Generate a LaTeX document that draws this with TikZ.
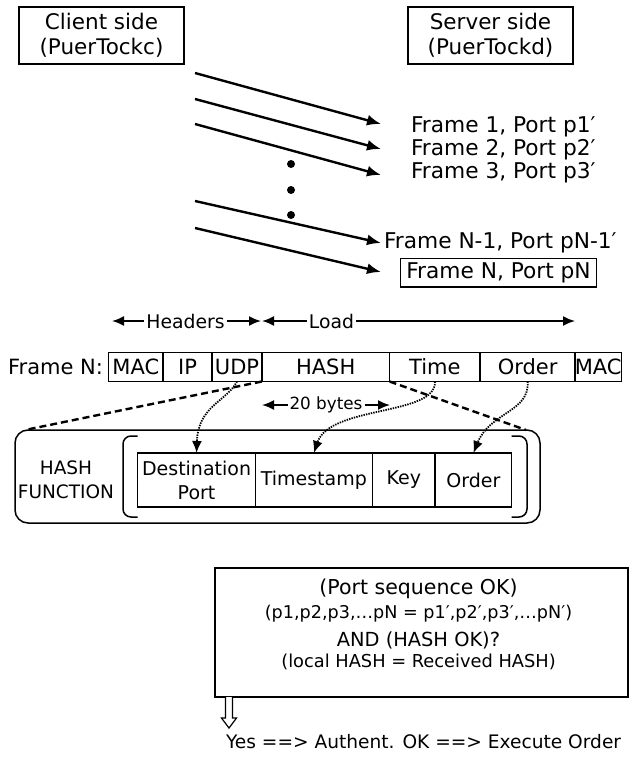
\documentclass[tikz,border=0pt]{standalone}
\usepackage{fontspec}
\setmainfont{DejaVu Sans}
\usetikzlibrary{arrows.meta,calc}

\begin{document}
\begin{tikzpicture}[x=1pt,y=-1pt,
  every node/.style={inner sep=0pt, outer sep=0pt},
  fs/.style={font=\fontsize{#1}{#1}\selectfont},
  boxed/.style={draw, line width=1.5pt, align=center},
  field/.style={boxed, fs=21, minimum height=29pt},
  cell/.style={boxed, minimum height=54pt, font=\fontsize{19}{24}\selectfont},
  packet/.style={line width=2.4pt, -{Latex[length=14pt,width=11pt]}},
  span/.style={line width=1.8pt, {Latex[length=12pt,width=10pt]}-{Latex[length=12pt,width=10pt]}},
  zoomline/.style={line width=2.4pt, dash pattern=on 7pt off 4pt},
  feed/.style={line width=1.8pt, dash pattern=on 1.4pt off 1.1pt, -{Latex[length=12pt,width=10pt]}},
]
\useasboundingbox (0,0) rectangle (632,760);

% end points
\node[boxed, font=\fontsize{21.5}{25}\selectfont, minimum width=165pt, minimum height=57pt] (client) at (101.5,35.5) {Client side\\(PuerTockc)};
\node[boxed, font=\fontsize{21.5}{25}\selectfont, minimum width=165pt, minimum height=57pt] (server) at (490.5,35.5) {Server side\\(PuerTockd)};

% received frames
\node[fs=21.7, anchor=west] (fr1) at (411,127) {Frame 1, Port p1′};
\node[fs=21.7, anchor=west] (fr2) at (411,150) {Frame 2, Port p2′};
\node[fs=21.7, anchor=west] (fr3) at (411,173) {Frame 3, Port p3′};
\node[fs=21.7, anchor=west] (frn1) at (384,243) {Frame N-1, Port pN-1′};
\node[boxed, fs=21.7, minimum width=196pt, minimum height=28.5pt] (frn) at (498.5,272.5) {Frame N, Port pN};

% packets on the wire
\coordinate (s1) at (195,73);  \coordinate (t1) at (381,124);
\coordinate (s2) at (195,99);  \coordinate (t2) at (381,149);
\coordinate (s3) at (195,124); \coordinate (t3) at (381,175);
\coordinate (s4) at (195,201); \coordinate (t4) at (381,243);
\coordinate (s5) at (195,228); \coordinate (t5) at (381,272);
\foreach \i in {1,...,5} {\draw[packet] (s\i) -- (t\i);}
\foreach \y [count=\k] in {164,190,215} {\fill (291,\y) circle (4pt) coordinate (dot\k);}

% frame layout
\node[fs=21, anchor=east] (fnlabel) at (103,367) {Frame N:};
\node[field, minimum width=54.3pt] (mac1) at (135.85,367) {MAC};
\node[field, minimum width=49.2pt] (ip) at (187.6,367) {IP};
\node[field, minimum width=49.6pt] (udp) at (237,367) {UDP};
\node[field, minimum width=127.8pt] (hash) at (325.7,367) {HASH};
\node[field, minimum width=90.6pt] (time) at (434.9,367) {Time};
\node[field, minimum width=94.8pt] (order) at (527.6,367) {Order};
\node[field, minimum width=46.3pt] (mac2) at (598.15,367) {MAC};

% header / load spans
\coordinate (hl) at (112,321); \coordinate (hr) at (261,321);
\coordinate (ll) at (262,321); \coordinate (lr) at (575,321);
\draw[span] (hl) -- (hr);
\draw[span] (ll) -- (lr);
\node[fs=18.8, fill=white, inner xsep=2pt, inner ysep=1pt] (hdr) at (185.5,321) {Headers};
\node[fs=18.8, fill=white, inner xsep=2pt, inner ysep=1pt] (load) at (331.5,321) {Load};

% hash length
\coordinate (b20l) at (262,405);
\coordinate (b20r) at (390,405);
\draw[span] (b20l) -- (b20r);
\node[fs=16.8, fill=white, inner xsep=2pt, inner ysep=1pt] (b20) at (326,405) {20 bytes};

% hash function
\node[draw, line width=1.5pt, rounded corners=13pt, minimum width=525pt, minimum height=93pt] (hfun) at (277.5,476.5) {};
\node[align=center, font=\fontsize{18.5}{24}\selectfont] (hlabel) at (66,480) {HASH\\FUNCTION};
\node[cell, minimum width=117.7pt] (dest) at (196.55,480) {Destination\\Port};
\node[cell, minimum width=116.9pt] (tstamp) at (313.85,480) {Timestamp};
\node[cell, minimum width=62.9pt] (key) at (403.75,480) {Key};
\node[cell, minimum width=76.5pt] (ord) at (473.45,480) {Order};
\draw[line width=1.5pt] (dest.west |- 0,436) -- (131,436) arc[start angle=90, end angle=180, radius=8pt]
  -- (123,509) arc[start angle=180, end angle=270, radius=8pt] -- (dest.west |- 0,517);
\draw[line width=1.5pt] (ord.east |- 0,436) -- (519,436) arc[start angle=90, end angle=0, radius=8pt]
  -- (527,509) arc[start angle=0, end angle=-90, radius=8pt] -- (ord.east |- 0,517);

% zoom of the hash field
\coordinate (zl) at (25,430);
\coordinate (zr) at (526,430);
\draw[zoomline] (hash.south west) -- (zl);
\draw[zoomline] (hash.south east) -- (zr);

% fields fed into the hash
\draw[feed] (udp.south) .. controls (226,402) and (198,406) .. (dest.north);
\draw[feed] (time.south) .. controls (437,416) and (330,405) .. (tstamp.north);
\draw[feed] (order.south) .. controls (530,412) and (490,412) .. (ord.north);

% server check
\node[boxed, minimum width=413pt, minimum height=129pt] (check) at (421.5,632.5) {};
\node[fs=20.5] (c1) at (418.5,589) {(Port sequence OK)};
\node[fs=17.6] (c2) at (418.5,614) {(p1,p2,p3,…pN = p1′,p2′,p3′,…pN′)};
\node[fs=19.4] (c3) at (418.5,640) {AND (HASH OK)?};
\node[fs=17.8] (c4) at (418.5,662) {(local HASH = Received HASH)};

\node[fs=18.6, anchor=west] (yes) at (226,742) {Yes ==> Authent. OK ==> Execute Order};
\coordinate (ya) at ($(check.south west)+(14,0)$);
\draw[line width=1.2pt, fill=white] ($(ya)+(-3.5,0)$) -- ++(0,21) -- ++(-4,0) -- ($(ya)+(0,31)$)
  -- ($(ya)+(7.5,21)$) -- ++(-4,0) -- ($(ya)+(3.5,0)$);
\end{tikzpicture}
\end{document}
